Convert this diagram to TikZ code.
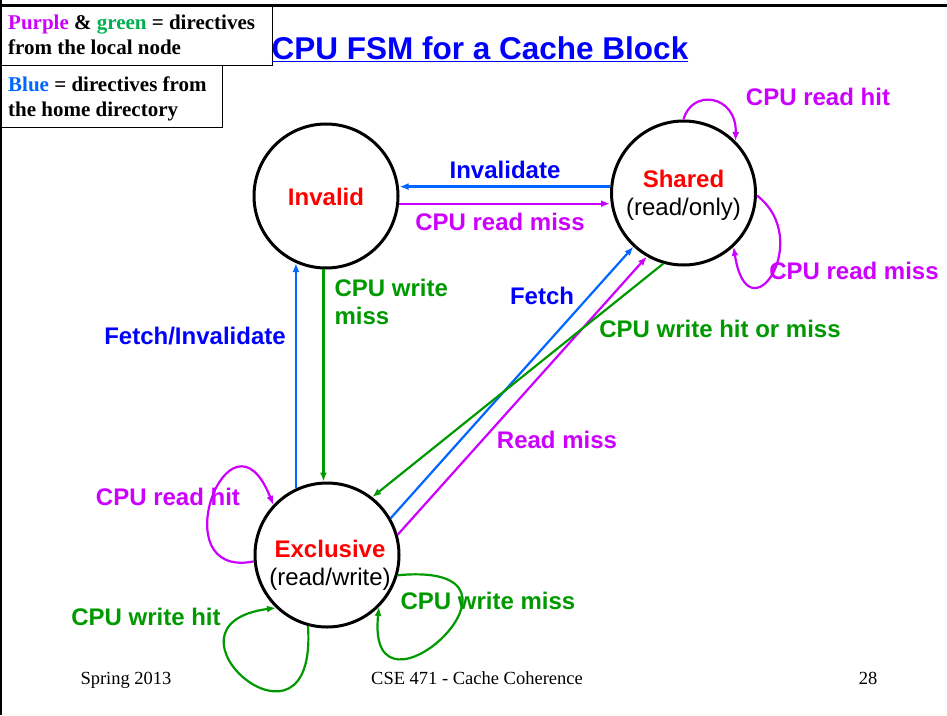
\documentclass[tikz,border=0pt]{standalone}
\usepackage{fontspec}
\setmainfont{Liberation Serif}
\setsansfont{Liberation Sans}
\usetikzlibrary{arrows.meta}

\definecolor{dirpurple}{RGB}{204,0,255}
\definecolor{dirgreen}{RGB}{0,153,0}
\definecolor{keygreen}{RGB}{0,176,80}
\definecolor{homeblue}{RGB}{0,102,255}
\definecolor{lblblue}{RGB}{0,0,255}
\definecolor{statered}{RGB}{255,0,0}

\tikzset{
  state/.style={circle,draw,line width=3pt,minimum size=144pt,inner sep=0pt},
  statetext/.style={font=\sffamily\fontsize{24}{28}\selectfont,align=center},
  lbl/.style={font=\sffamily\bfseries\fontsize{24}{28}\selectfont},
  trans/.style={line width=2.2pt,-{Latex[length=9pt,width=7pt]}},
  foot/.style={font=\fontsize{18.5}{22}\selectfont,anchor=base},
  key/.style={font=\bfseries\fontsize{21}{25}\selectfont,align=left,anchor=north west,inner sep=0pt},
}

\begin{document}
\begin{tikzpicture}[x=1pt,y=1pt]
      \useasboundingbox (0,0) rectangle (947,-715);
      \draw[line width=3.5pt] (0,-5.5) -- (947,-5.5);
      \draw[line width=2pt] (1,0) -- (1,-715);

      \draw[line width=0.8pt] (1,-6) rectangle (272,-65);
      \draw[line width=0.8pt] (1,-65) rectangle (222,-127);
      \node[key] (keylocal) at (8,-15) {\textcolor{dirpurple}{Purple} \& \textcolor{keygreen}{green} = directives\\from the local node};
      \node[key] (keyhome) at (8,-77) {\textcolor{homeblue}{Blue} = directives from\\the home directory};

      \node[font=\sffamily\bfseries\fontsize{31.5}{36}\selectfont,text=lblblue,anchor=base] (title) at (480,-59) {\underline{CPU FSM for a Cache Block}};

      \node[state] (inv) at (326,-196) {};
      \node[state] (sh) at (683.5,-193) {};
      \node[state] (ex) at (327,-555) {};
      \node[statetext] (invT) at (326,-197) {\textcolor{statered}{\bfseries Invalid}};
      \node[statetext] (shT) at (683.5,-195.5) {\textcolor{statered}{\bfseries Shared}\\(read/only)};
      \node[statetext] (exT) at (330,-565) {\textcolor{statered}{\bfseries Exclusive}\\(read/write)};

      \draw[trans,homeblue] (sh.175) -- (sh.175 -| inv.east);
      \draw[trans,dirpurple] (inv.-6) -- (inv.-6 -| sh.west);
      \draw[trans,homeblue] (ex.115) -- (ex.115 |- inv.246);
      \draw[trans,dirgreen] (inv.-92) -- (inv.-92 |- ex.north);
      \draw[trans,homeblue] (ex.30) -- (sh.227);
      \draw[trans,dirpurple] (ex.16) -- (sh.240);
      \draw[trans,dirgreen] (sh.254) -- (ex.52);

      \draw[trans,dirpurple] (sh.90) .. controls (692,-88) and (737,-95) .. (sh.45);
      \draw[trans,dirpurple] (sh.-2) .. controls (815,-240) and (748,-340) .. (sh.-47);
      \draw[trans,dirpurple] (ex.185) .. controls (160,-580) and (230,-395) .. (ex.137);
      \draw[trans,dirgreen] (ex.-105) .. controls (318,-775) and (145,-625) .. (ex.-134);
      \draw[trans,dirgreen] (ex.-16) .. controls (560,-560) and (365,-740) .. (ex.-45);

      \node[lbl,text=dirpurple] (shHit) at (818,-97) {CPU read hit};
      \node[lbl,text=dirpurple] (shMiss) at (854,-271) {CPU read miss};
      \node[lbl,text=lblblue] (invd) at (505,-170) {Invalidate};
      \node[lbl,text=dirpurple] (rdMiss) at (500,-222) {CPU read miss};
      \node[lbl,text=dirgreen,align=left,anchor=west] (wrMiss) at (331,-302) {CPU write\\miss};
      \node[lbl,text=lblblue] (fInv) at (195,-336) {Fetch/Invalidate};
      \node[lbl,text=lblblue] (fetch) at (542,-296) {Fetch};
      \node[lbl,text=dirgreen] (wrHitMiss) at (720,-329) {CPU write hit or miss};
      \node[lbl,text=dirpurple] (readMiss) at (557,-440) {Read miss};
      \node[lbl,text=dirpurple] (exHit) at (168,-497) {CPU read hit};
      \node[lbl,text=dirgreen] (exWrHit) at (146,-617) {CPU write hit};
      \node[lbl,text=dirgreen] (exWrMiss) at (488,-601) {CPU write miss};

      \node[foot] (season) at (126,-684) {Spring 2013};
      \node[foot] (course) at (477,-684) {CSE 471 - Cache Coherence};
      \node[foot] (page) at (868,-684) {28};
    \end{tikzpicture}
\end{document}
